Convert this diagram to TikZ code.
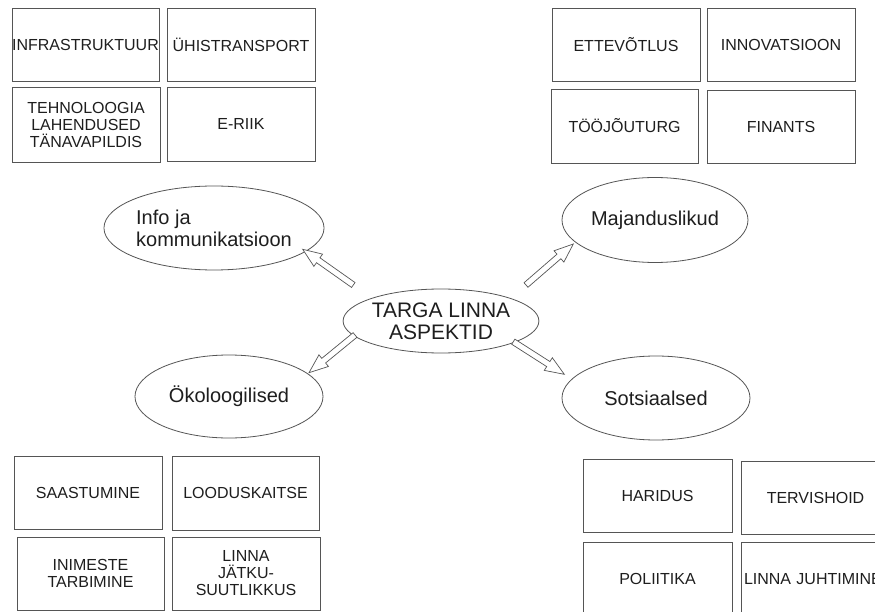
\documentclass[tikz,border=0pt]{standalone}
\usepackage{fontspec}
\setmainfont{Liberation Sans}
\usetikzlibrary{shapes.geometric,calc}
\definecolor{ln}{RGB}{85,85,85}
\definecolor{tx}{RGB}{30,30,30}
\tikzset{
  box/.style={draw=ln, line width=0.9pt, minimum width=148pt, minimum height=73pt,
    inner sep=0pt, text=tx, font=\fontsize{16}{17}\selectfont, align=center},
  oval/.style={draw=ln, ellipse, line width=0.8pt, inner sep=0pt, text=tx,
    font=\fontsize{20}{22}\selectfont, align=center},
  barrow/.style={draw=ln, line width=0.7pt, fill=white, line join=miter}
}
\newcommand\blockarrow[2]{%
  \coordinate (#1n) at ($(#2)!19pt!(#1)$);
  \draw[barrow] ($(#1)!3pt!90:(#2)$) -- ($(#1n)!3pt!-90:(#1)$)
    -- ($(#1n)!7.5pt!-90:(#1)$) -- (#2) -- ($(#1n)!7.5pt!90:(#1)$)
    -- ($(#1n)!3pt!90:(#1)$) -- ($(#1)!3pt!-90:(#2)$) -- cycle;}
\begin{document}
\begin{tikzpicture}[x=1pt,y=-1pt]
\clip (0,0) rectangle (875,612);
\fill[white] (0,0) rectangle (875,612);
% top-left boxes
\node[box, minimum width=147pt] (b1) at (85.5,44.5) {INFRASTRUKTUUR};
\node[box] (b2) at (241,44.5) {ÜHISTRANSPORT};
\node[box, minimum height=75pt] (b3) at (86,124.5) {TEHNOLOOGIA\\LAHENDUSED\\TÄNAVAPILDIS};
\node[box, minimum height=74pt] (b4) at (241,124) {E-RIIK};
% top-right boxes
\node[box] (b5) at (626,44.5) {ETTEVÕTLUS};
\node[box] (b6) at (781,44.5) {INNOVATSIOON};
\node[box, minimum width=147pt, minimum height=74pt] (b7) at (624.5,126) {TÖÖJÕUTURG};
\node[box] (b8) at (781,126.5) {FINANTS};
% bottom-left boxes
\node[box] (b9) at (88,492.5) {SAASTUMINE};
\node[box, minimum width=147pt, minimum height=74pt] (b10) at (245.5,493) {LOODUSKAITSE};
\node[box, minimum width=147pt] (b11) at (90.5,573.5) {\\[-6pt]INIMESTE\\TARBIMINE};
\node[box] (b12) at (246,573.5) {LINNA\\JÄTKU-\\SUUTLIKKUS};
% bottom-right boxes
\node[box, minimum width=149pt] (b13) at (657.5,495.5) {HARIDUS};
\node[box, minimum width=149pt] (b14) at (815.5,497.5) {TERVISHOID};
\node[box, minimum width=149pt, minimum height=74pt] (b15) at (657.5,579) {POLIITIKA};
\node[box, minimum width=149pt, minimum height=74pt, text width=143pt, align=left] (b16) at (815.5,579.5) {LINNA JUHTIMINE};
% ellipses
\node[oval, minimum width=180pt, minimum height=84pt, align=left] (info) at (214,228) {Info ja\\kommunikatsioon};
\node[oval, minimum width=187pt, minimum height=64pt, font=\fontsize{21}{22}\selectfont] (c) at (441,321) {TARGA LINNA\\ASPEKTID};
\node[oval, minimum width=186pt, minimum height=85pt] (maj) at (655,220) {Majanduslikud};
\node[oval, minimum width=188pt, minimum height=83pt] (oko) at (229,396.5) {Ökoloogilised};
\node[oval, minimum width=188pt, minimum height=84pt] (sots) at (656,398) {Sotsiaalsed};
% arrow end points
\coordinate (a1s) at (353.3,285);
\coordinate (a1e) at (302.7,249.3);
\coordinate (a2s) at (526,285);
\coordinate (a2e) at (573.3,244);
\coordinate (a3s) at (355,335);
\coordinate (a3e) at (309,372.7);
\coordinate (a4s) at (513.3,341.7);
\coordinate (a4e) at (564.3,374.3);
\blockarrow{a1s}{a1e}
\blockarrow{a2s}{a2e}
\blockarrow{a3s}{a3e}
\blockarrow{a4s}{a4e}
\end{tikzpicture}
\end{document}
